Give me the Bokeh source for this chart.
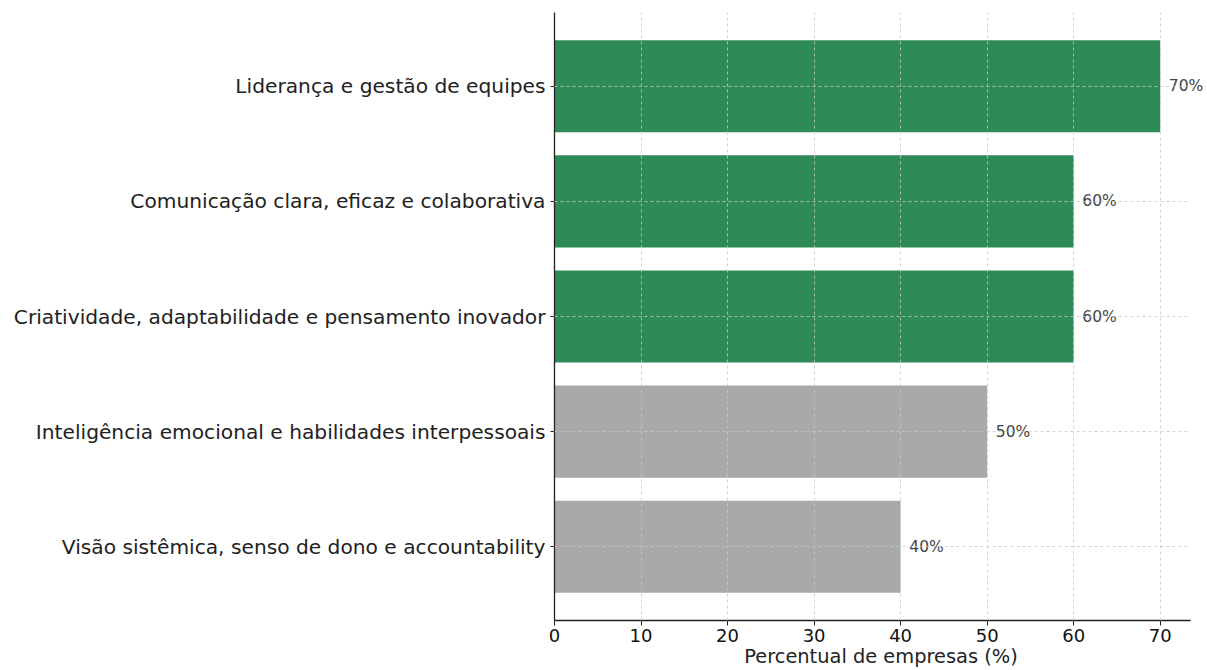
from bokeh.plotting import figure
from bokeh.models import Range1d, FixedTicker, ColumnDataSource, LabelSet
from bokeh.core.properties import value
from bokeh.embed import file_html
from bokeh.resources import INLINE

categories = [
    "Visão sistêmica, senso de dono e accountability",
    "Inteligência emocional e habilidades interpessoais",
    "Criatividade, adaptabilidade e pensamento inovador",
    "Comunicação clara, eficaz e colaborativa",
    "Liderança e gestão de equipes",
]
values = [40, 50, 60, 60, 70]
x_ticks = [0, 10, 20, 30, 40, 50, 60, 70]
x_label = "Percentual de empresas (%)"

GREEN = "#2e8b57"
GRAY = "#a9a9a9"
FONT = "DejaVu Sans"

pos = list(range(len(categories)))
colors = [GREEN if v >= 60 else GRAY for v in values]
labels = [f"{v}%" for v in values]
label_x = [v + 1 for v in values]

# axis spans 0..73.5 (5% margin); the frame extends a little further so the last label fits
AXIS_END = max(values) * 1.05
FRAME_END = AXIS_END + 17 / 636 * AXIS_END

src = ColumnDataSource(dict(y=pos, right=values, color=colors, lx=label_x, lab=labels))

p = figure(width=1207, height=670, output_backend="svg", toolbar_location=None,
           x_range=Range1d(0, FRAME_END), y_range=Range1d(-0.64, 4.64),
           min_border_left=554, min_border_right=0, min_border_top=12, min_border_bottom=49)
p.outline_line_color = None
p.background_fill_color = "white"
p.border_fill_color = "white"

p.hbar(y="y", right="right", left=0, height=0.8, color="color", line_color=None, source=src)
ls = LabelSet(x="lx", y="y", text="lab", source=src, text_font=value(FONT), text_font_size="15.5px",
              text_color="#444444", text_baseline="middle", text_align="left")
p.add_layout(ls)

# axes
p.xaxis.ticker = FixedTicker(ticks=x_ticks)
p.xaxis.bounds = (0, AXIS_END)
p.xaxis.axis_label = x_label
p.xaxis.axis_label_text_font = FONT
p.xaxis.axis_label_text_font_style = "normal"
p.xaxis.axis_label_text_font_size = "19.4px"
p.xaxis.axis_label_text_color = "#222222"
p.xaxis.axis_label_standoff = 0
p.xaxis.major_label_text_font = FONT
p.xaxis.major_label_text_font_size = "18px"
p.xaxis.major_label_text_color = "#111111"
p.xaxis.major_label_standoff = 3
p.xaxis.minor_tick_line_color = None
p.xaxis.major_tick_out = 5
p.xaxis.major_tick_in = 0
p.xaxis.axis_line_color = "#222222"
p.xaxis.axis_line_width = 1.3
p.xaxis.major_tick_line_color = "#222222"

p.yaxis.ticker = FixedTicker(ticks=pos)
p.yaxis.major_label_overrides = {i: c for i, c in zip(pos, categories)}
p.yaxis.major_label_text_font = FONT
p.yaxis.major_label_text_font_size = "20.2px"
p.yaxis.major_label_text_color = "#222222"
p.yaxis.major_label_standoff = 5
p.yaxis.minor_tick_line_color = None
p.yaxis.major_tick_out = 4
p.yaxis.major_tick_in = 0
p.yaxis.axis_line_color = "#222222"
p.yaxis.axis_line_width = 1.3
p.yaxis.major_tick_line_color = "#222222"

# grid
for g in (p.xgrid, p.ygrid):
    g.grid_line_color = "#c8c8c8"
    g.grid_line_dash = "3 3"
    g.grid_line_alpha = 0.8
    g.level = "overlay"
p.xgrid.ticker = FixedTicker(ticks=x_ticks)
p.ygrid.ticker = FixedTicker(ticks=pos)
p.ygrid.cross_bounds = (0, AXIS_END)

open("out.html", "w").write(file_html(p, INLINE))
